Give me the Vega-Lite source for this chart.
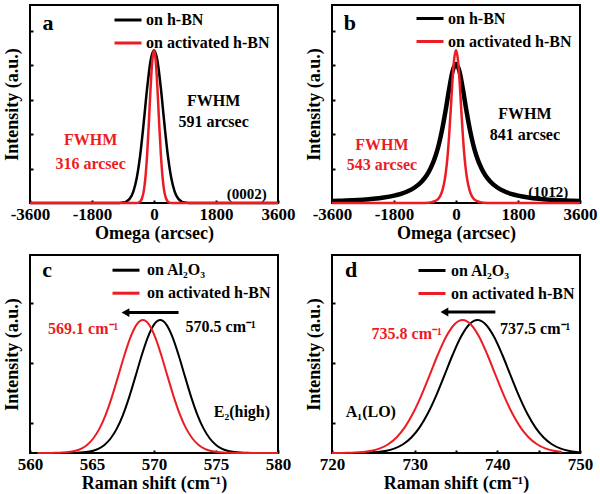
{
  "$schema": "https://vega.github.io/schema/vega-lite/v6.json",
  "padding": {"left": 2, "top": 2, "right": 2, "bottom": 2},
  "background": "white",
  "config": {
    "font": "Liberation Serif",
    "view": {"stroke": "black", "strokeWidth": 2},
    "axis": {"grid": false, "domain": false, "tickColor": "black", "tickSize": -3, "tickWidth": 2,
      "labelFont": "Liberation Serif", "labelFontWeight": "bold", "labelFontSize": 17, "labelColor": "black", "labelFlush": false, "labelPadding": 6,
      "titleFont": "Liberation Serif", "titleFontWeight": "bold", "titleFontSize": 18, "titleColor": "black"},
    "axisX": {"titlePadding": 2},
    "axisY": {"titlePadding": 8},
    "legend": {"orient": "none", "symbolType": "stroke", "symbolSize": 729, "symbolStrokeWidth": 3,
      "labelFont": "Liberation Serif", "labelFontWeight": "bold", "labelFontSize": 16, "labelColor": "black",
      "labelOffset": 3, "rowPadding": -6, "padding": 0, "labelLimit": 300},
    "text": {"font": "Liberation Serif", "fontWeight": "bold"}
  },
  "datasets": {
    "xrd0002": [
      {"omega": -3600, "intensity": 0, "sample": "on h-BN"},
      {"omega": -1100, "intensity": 0, "sample": "on h-BN"},
      {"omega": -1000, "intensity": 0.003, "sample": "on h-BN"},
      {"omega": -900, "intensity": 0.013, "sample": "on h-BN"},
      {"omega": -800, "intensity": 0.044, "sample": "on h-BN"},
      {"omega": -700, "intensity": 0.129, "sample": "on h-BN"},
      {"omega": -600, "intensity": 0.33, "sample": "on h-BN"},
      {"omega": -500, "intensity": 0.73, "sample": "on h-BN"},
      {"omega": -400, "intensity": 1.397, "sample": "on h-BN"},
      {"omega": -300, "intensity": 2.315, "sample": "on h-BN"},
      {"omega": -200, "intensity": 3.32, "sample": "on h-BN"},
      {"omega": -100, "intensity": 4.122, "sample": "on h-BN"},
      {"omega": 0, "intensity": 4.43, "sample": "on h-BN"},
      {"omega": 100, "intensity": 4.122, "sample": "on h-BN"},
      {"omega": 200, "intensity": 3.32, "sample": "on h-BN"},
      {"omega": 300, "intensity": 2.315, "sample": "on h-BN"},
      {"omega": 400, "intensity": 1.397, "sample": "on h-BN"},
      {"omega": 500, "intensity": 0.73, "sample": "on h-BN"},
      {"omega": 600, "intensity": 0.33, "sample": "on h-BN"},
      {"omega": 700, "intensity": 0.129, "sample": "on h-BN"},
      {"omega": 800, "intensity": 0.044, "sample": "on h-BN"},
      {"omega": 900, "intensity": 0.013, "sample": "on h-BN"},
      {"omega": 1000, "intensity": 0.003, "sample": "on h-BN"},
      {"omega": 1100, "intensity": 0, "sample": "on h-BN"},
      {"omega": 3600, "intensity": 0, "sample": "on h-BN"},
      {"omega": -3600, "intensity": 0, "sample": "on activated h-BN"},
      {"omega": -550, "intensity": 0, "sample": "on activated h-BN"},
      {"omega": -500, "intensity": 0.003, "sample": "on activated h-BN"},
      {"omega": -450, "intensity": 0.013, "sample": "on activated h-BN"},
      {"omega": -400, "intensity": 0.044, "sample": "on activated h-BN"},
      {"omega": -350, "intensity": 0.13, "sample": "on activated h-BN"},
      {"omega": -300, "intensity": 0.33, "sample": "on activated h-BN"},
      {"omega": -250, "intensity": 0.73, "sample": "on activated h-BN"},
      {"omega": -200, "intensity": 1.4, "sample": "on activated h-BN"},
      {"omega": -150, "intensity": 2.31, "sample": "on activated h-BN"},
      {"omega": -100, "intensity": 3.32, "sample": "on activated h-BN"},
      {"omega": -50, "intensity": 4.12, "sample": "on activated h-BN"},
      {"omega": 0, "intensity": 4.43, "sample": "on activated h-BN"},
      {"omega": 50, "intensity": 4.12, "sample": "on activated h-BN"},
      {"omega": 100, "intensity": 3.32, "sample": "on activated h-BN"},
      {"omega": 150, "intensity": 2.31, "sample": "on activated h-BN"},
      {"omega": 200, "intensity": 1.4, "sample": "on activated h-BN"},
      {"omega": 250, "intensity": 0.73, "sample": "on activated h-BN"},
      {"omega": 300, "intensity": 0.33, "sample": "on activated h-BN"},
      {"omega": 350, "intensity": 0.13, "sample": "on activated h-BN"},
      {"omega": 400, "intensity": 0.044, "sample": "on activated h-BN"},
      {"omega": 450, "intensity": 0.013, "sample": "on activated h-BN"},
      {"omega": 500, "intensity": 0.003, "sample": "on activated h-BN"},
      {"omega": 550, "intensity": 0, "sample": "on activated h-BN"},
      {"omega": 3600, "intensity": 0, "sample": "on activated h-BN"}
    ],
    "xrd1012": [
      {"omega": -3600, "intensity": 0.055, "sample": "on h-BN"},
      {"omega": -3300, "intensity": 0.066, "sample": "on h-BN"},
      {"omega": -3000, "intensity": 0.079, "sample": "on h-BN"},
      {"omega": -2700, "intensity": 0.097, "sample": "on h-BN"},
      {"omega": -2400, "intensity": 0.122, "sample": "on h-BN"},
      {"omega": -2100, "intensity": 0.159, "sample": "on h-BN"},
      {"omega": -1800, "intensity": 0.213, "sample": "on h-BN"},
      {"omega": -1600, "intensity": 0.266, "sample": "on h-BN"},
      {"omega": -1400, "intensity": 0.34, "sample": "on h-BN"},
      {"omega": -1200, "intensity": 0.449, "sample": "on h-BN"},
      {"omega": -1000, "intensity": 0.617, "sample": "on h-BN"},
      {"omega": -900, "intensity": 0.735, "sample": "on h-BN"},
      {"omega": -800, "intensity": 0.887, "sample": "on h-BN"},
      {"omega": -700, "intensity": 1.09, "sample": "on h-BN"},
      {"omega": -600, "intensity": 1.35, "sample": "on h-BN"},
      {"omega": -500, "intensity": 1.69, "sample": "on h-BN"},
      {"omega": -400, "intensity": 2.14, "sample": "on h-BN"},
      {"omega": -300, "intensity": 2.69, "sample": "on h-BN"},
      {"omega": -200, "intensity": 3.3, "sample": "on h-BN"},
      {"omega": -100, "intensity": 3.82, "sample": "on h-BN"},
      {"omega": 0, "intensity": 4.03, "sample": "on h-BN"},
      {"omega": 100, "intensity": 3.82, "sample": "on h-BN"},
      {"omega": 200, "intensity": 3.3, "sample": "on h-BN"},
      {"omega": 300, "intensity": 2.69, "sample": "on h-BN"},
      {"omega": 400, "intensity": 2.14, "sample": "on h-BN"},
      {"omega": 500, "intensity": 1.69, "sample": "on h-BN"},
      {"omega": 600, "intensity": 1.35, "sample": "on h-BN"},
      {"omega": 700, "intensity": 1.09, "sample": "on h-BN"},
      {"omega": 800, "intensity": 0.887, "sample": "on h-BN"},
      {"omega": 900, "intensity": 0.735, "sample": "on h-BN"},
      {"omega": 1000, "intensity": 0.617, "sample": "on h-BN"},
      {"omega": 1200, "intensity": 0.449, "sample": "on h-BN"},
      {"omega": 1400, "intensity": 0.34, "sample": "on h-BN"},
      {"omega": 1600, "intensity": 0.266, "sample": "on h-BN"},
      {"omega": 1800, "intensity": 0.213, "sample": "on h-BN"},
      {"omega": 2100, "intensity": 0.159, "sample": "on h-BN"},
      {"omega": 2400, "intensity": 0.122, "sample": "on h-BN"},
      {"omega": 2700, "intensity": 0.097, "sample": "on h-BN"},
      {"omega": 3000, "intensity": 0.079, "sample": "on h-BN"},
      {"omega": 3300, "intensity": 0.066, "sample": "on h-BN"},
      {"omega": 3600, "intensity": 0.055, "sample": "on h-BN"},
      {"omega": -3600, "intensity": 0, "sample": "on activated h-BN"},
      {"omega": -1000, "intensity": 0, "sample": "on activated h-BN"},
      {"omega": -800, "intensity": 0.01, "sample": "on activated h-BN"},
      {"omega": -700, "intensity": 0.025, "sample": "on activated h-BN"},
      {"omega": -600, "intensity": 0.06, "sample": "on activated h-BN"},
      {"omega": -500, "intensity": 0.14, "sample": "on activated h-BN"},
      {"omega": -450, "intensity": 0.22, "sample": "on activated h-BN"},
      {"omega": -400, "intensity": 0.35, "sample": "on activated h-BN"},
      {"omega": -350, "intensity": 0.55, "sample": "on activated h-BN"},
      {"omega": -300, "intensity": 0.85, "sample": "on activated h-BN"},
      {"omega": -250, "intensity": 1.3, "sample": "on activated h-BN"},
      {"omega": -200, "intensity": 1.95, "sample": "on activated h-BN"},
      {"omega": -150, "intensity": 2.75, "sample": "on activated h-BN"},
      {"omega": -100, "intensity": 3.6, "sample": "on activated h-BN"},
      {"omega": -50, "intensity": 4.2, "sample": "on activated h-BN"},
      {"omega": 0, "intensity": 4.43, "sample": "on activated h-BN"},
      {"omega": 50, "intensity": 4.2, "sample": "on activated h-BN"},
      {"omega": 100, "intensity": 3.6, "sample": "on activated h-BN"},
      {"omega": 150, "intensity": 2.75, "sample": "on activated h-BN"},
      {"omega": 200, "intensity": 1.95, "sample": "on activated h-BN"},
      {"omega": 250, "intensity": 1.3, "sample": "on activated h-BN"},
      {"omega": 300, "intensity": 0.85, "sample": "on activated h-BN"},
      {"omega": 350, "intensity": 0.55, "sample": "on activated h-BN"},
      {"omega": 400, "intensity": 0.35, "sample": "on activated h-BN"},
      {"omega": 450, "intensity": 0.22, "sample": "on activated h-BN"},
      {"omega": 500, "intensity": 0.14, "sample": "on activated h-BN"},
      {"omega": 600, "intensity": 0.06, "sample": "on activated h-BN"},
      {"omega": 700, "intensity": 0.025, "sample": "on activated h-BN"},
      {"omega": 800, "intensity": 0.01, "sample": "on activated h-BN"},
      {"omega": 1000, "intensity": 0, "sample": "on activated h-BN"},
      {"omega": 3600, "intensity": 0, "sample": "on activated h-BN"}
    ],
    "e2high": [
      {"shift": 562.5, "intensity": 0, "sample": "on Al₂O₃"},
      {"shift": 563, "intensity": 0.002, "sample": "on Al₂O₃"},
      {"shift": 563.5, "intensity": 0.005, "sample": "on Al₂O₃"},
      {"shift": 564, "intensity": 0.013, "sample": "on Al₂O₃"},
      {"shift": 564.5, "intensity": 0.03, "sample": "on Al₂O₃"},
      {"shift": 565, "intensity": 0.067, "sample": "on Al₂O₃"},
      {"shift": 565.5, "intensity": 0.139, "sample": "on Al₂O₃"},
      {"shift": 566, "intensity": 0.268, "sample": "on Al₂O₃"},
      {"shift": 566.5, "intensity": 0.483, "sample": "on Al₂O₃"},
      {"shift": 567, "intensity": 0.812, "sample": "on Al₂O₃"},
      {"shift": 567.5, "intensity": 1.274, "sample": "on Al₂O₃"},
      {"shift": 568, "intensity": 1.864, "sample": "on Al₂O₃"},
      {"shift": 568.5, "intensity": 2.546, "sample": "on Al₂O₃"},
      {"shift": 569, "intensity": 3.244, "sample": "on Al₂O₃"},
      {"shift": 569.5, "intensity": 3.857, "sample": "on Al₂O₃"},
      {"shift": 570, "intensity": 4.28, "sample": "on Al₂O₃"},
      {"shift": 570.5, "intensity": 4.43, "sample": "on Al₂O₃"},
      {"shift": 571, "intensity": 4.28, "sample": "on Al₂O₃"},
      {"shift": 571.5, "intensity": 3.857, "sample": "on Al₂O₃"},
      {"shift": 572, "intensity": 3.244, "sample": "on Al₂O₃"},
      {"shift": 572.5, "intensity": 2.546, "sample": "on Al₂O₃"},
      {"shift": 573, "intensity": 1.864, "sample": "on Al₂O₃"},
      {"shift": 573.5, "intensity": 1.274, "sample": "on Al₂O₃"},
      {"shift": 574, "intensity": 0.812, "sample": "on Al₂O₃"},
      {"shift": 574.5, "intensity": 0.483, "sample": "on Al₂O₃"},
      {"shift": 575, "intensity": 0.268, "sample": "on Al₂O₃"},
      {"shift": 575.5, "intensity": 0.139, "sample": "on Al₂O₃"},
      {"shift": 576, "intensity": 0.067, "sample": "on Al₂O₃"},
      {"shift": 576.5, "intensity": 0.03, "sample": "on Al₂O₃"},
      {"shift": 577, "intensity": 0.013, "sample": "on Al₂O₃"},
      {"shift": 577.5, "intensity": 0.005, "sample": "on Al₂O₃"},
      {"shift": 578, "intensity": 0.002, "sample": "on Al₂O₃"},
      {"shift": 578.5, "intensity": 0, "sample": "on Al₂O₃"},
      {"shift": 560.6, "intensity": 0, "sample": "on activated h-BN"},
      {"shift": 561.6, "intensity": 0.002, "sample": "on activated h-BN"},
      {"shift": 562.1, "intensity": 0.005, "sample": "on activated h-BN"},
      {"shift": 562.6, "intensity": 0.013, "sample": "on activated h-BN"},
      {"shift": 563.1, "intensity": 0.03, "sample": "on activated h-BN"},
      {"shift": 563.6, "intensity": 0.067, "sample": "on activated h-BN"},
      {"shift": 564.1, "intensity": 0.139, "sample": "on activated h-BN"},
      {"shift": 564.6, "intensity": 0.268, "sample": "on activated h-BN"},
      {"shift": 565.1, "intensity": 0.483, "sample": "on activated h-BN"},
      {"shift": 565.6, "intensity": 0.812, "sample": "on activated h-BN"},
      {"shift": 566.1, "intensity": 1.274, "sample": "on activated h-BN"},
      {"shift": 566.6, "intensity": 1.864, "sample": "on activated h-BN"},
      {"shift": 567.1, "intensity": 2.546, "sample": "on activated h-BN"},
      {"shift": 567.6, "intensity": 3.244, "sample": "on activated h-BN"},
      {"shift": 568.1, "intensity": 3.857, "sample": "on activated h-BN"},
      {"shift": 568.6, "intensity": 4.28, "sample": "on activated h-BN"},
      {"shift": 569.1, "intensity": 4.43, "sample": "on activated h-BN"},
      {"shift": 569.6, "intensity": 4.28, "sample": "on activated h-BN"},
      {"shift": 570.1, "intensity": 3.857, "sample": "on activated h-BN"},
      {"shift": 570.6, "intensity": 3.244, "sample": "on activated h-BN"},
      {"shift": 571.1, "intensity": 2.546, "sample": "on activated h-BN"},
      {"shift": 571.6, "intensity": 1.864, "sample": "on activated h-BN"},
      {"shift": 572.1, "intensity": 1.274, "sample": "on activated h-BN"},
      {"shift": 572.6, "intensity": 0.812, "sample": "on activated h-BN"},
      {"shift": 573.1, "intensity": 0.483, "sample": "on activated h-BN"},
      {"shift": 573.6, "intensity": 0.268, "sample": "on activated h-BN"},
      {"shift": 574.1, "intensity": 0.139, "sample": "on activated h-BN"},
      {"shift": 574.6, "intensity": 0.067, "sample": "on activated h-BN"},
      {"shift": 575.1, "intensity": 0.03, "sample": "on activated h-BN"},
      {"shift": 575.6, "intensity": 0.013, "sample": "on activated h-BN"},
      {"shift": 576.1, "intensity": 0.005, "sample": "on activated h-BN"},
      {"shift": 576.6, "intensity": 0.002, "sample": "on activated h-BN"},
      {"shift": 577.1, "intensity": 0, "sample": "on activated h-BN"},
      {"shift": 580, "intensity": 0, "sample": "on activated h-BN"}
    ],
    "a1lo": [
      {"shift": 722.6, "intensity": 0.002, "sample": "on Al₂O₃"},
      {"shift": 723.6, "intensity": 0.006, "sample": "on Al₂O₃"},
      {"shift": 724.6, "intensity": 0.015, "sample": "on Al₂O₃"},
      {"shift": 725.6, "intensity": 0.035, "sample": "on Al₂O₃"},
      {"shift": 726.6, "intensity": 0.076, "sample": "on Al₂O₃"},
      {"shift": 727.6, "intensity": 0.155, "sample": "on Al₂O₃"},
      {"shift": 728.6, "intensity": 0.292, "sample": "on Al₂O₃"},
      {"shift": 729.6, "intensity": 0.517, "sample": "on Al₂O₃"},
      {"shift": 730.6, "intensity": 0.855, "sample": "on Al₂O₃"},
      {"shift": 731.6, "intensity": 1.324, "sample": "on Al₂O₃"},
      {"shift": 732.6, "intensity": 1.915, "sample": "on Al₂O₃"},
      {"shift": 733.6, "intensity": 2.589, "sample": "on Al₂O₃"},
      {"shift": 734.6, "intensity": 3.275, "sample": "on Al₂O₃"},
      {"shift": 735.6, "intensity": 3.874, "sample": "on Al₂O₃"},
      {"shift": 736.6, "intensity": 4.284, "sample": "on Al₂O₃"},
      {"shift": 737.6, "intensity": 4.43, "sample": "on Al₂O₃"},
      {"shift": 738.6, "intensity": 4.284, "sample": "on Al₂O₃"},
      {"shift": 739.6, "intensity": 3.874, "sample": "on Al₂O₃"},
      {"shift": 740.6, "intensity": 3.275, "sample": "on Al₂O₃"},
      {"shift": 741.6, "intensity": 2.589, "sample": "on Al₂O₃"},
      {"shift": 742.6, "intensity": 1.915, "sample": "on Al₂O₃"},
      {"shift": 743.6, "intensity": 1.324, "sample": "on Al₂O₃"},
      {"shift": 744.6, "intensity": 0.855, "sample": "on Al₂O₃"},
      {"shift": 745.6, "intensity": 0.517, "sample": "on Al₂O₃"},
      {"shift": 746.6, "intensity": 0.292, "sample": "on Al₂O₃"},
      {"shift": 747.6, "intensity": 0.155, "sample": "on Al₂O₃"},
      {"shift": 748.6, "intensity": 0.076, "sample": "on Al₂O₃"},
      {"shift": 749.6, "intensity": 0.035, "sample": "on Al₂O₃"},
      {"shift": 750, "intensity": 0.025, "sample": "on Al₂O₃"},
      {"shift": 720, "intensity": 0.001, "sample": "on activated h-BN"},
      {"shift": 720.8, "intensity": 0.002, "sample": "on activated h-BN"},
      {"shift": 721.8, "intensity": 0.006, "sample": "on activated h-BN"},
      {"shift": 722.8, "intensity": 0.015, "sample": "on activated h-BN"},
      {"shift": 723.8, "intensity": 0.035, "sample": "on activated h-BN"},
      {"shift": 724.8, "intensity": 0.076, "sample": "on activated h-BN"},
      {"shift": 725.8, "intensity": 0.155, "sample": "on activated h-BN"},
      {"shift": 726.8, "intensity": 0.292, "sample": "on activated h-BN"},
      {"shift": 727.8, "intensity": 0.517, "sample": "on activated h-BN"},
      {"shift": 728.8, "intensity": 0.855, "sample": "on activated h-BN"},
      {"shift": 729.8, "intensity": 1.324, "sample": "on activated h-BN"},
      {"shift": 730.8, "intensity": 1.915, "sample": "on activated h-BN"},
      {"shift": 731.8, "intensity": 2.589, "sample": "on activated h-BN"},
      {"shift": 732.8, "intensity": 3.275, "sample": "on activated h-BN"},
      {"shift": 733.8, "intensity": 3.874, "sample": "on activated h-BN"},
      {"shift": 734.8, "intensity": 4.284, "sample": "on activated h-BN"},
      {"shift": 735.8, "intensity": 4.43, "sample": "on activated h-BN"},
      {"shift": 736.8, "intensity": 4.284, "sample": "on activated h-BN"},
      {"shift": 737.8, "intensity": 3.874, "sample": "on activated h-BN"},
      {"shift": 738.8, "intensity": 3.275, "sample": "on activated h-BN"},
      {"shift": 739.8, "intensity": 2.589, "sample": "on activated h-BN"},
      {"shift": 740.8, "intensity": 1.915, "sample": "on activated h-BN"},
      {"shift": 741.8, "intensity": 1.324, "sample": "on activated h-BN"},
      {"shift": 742.8, "intensity": 0.855, "sample": "on activated h-BN"},
      {"shift": 743.8, "intensity": 0.517, "sample": "on activated h-BN"},
      {"shift": 744.8, "intensity": 0.292, "sample": "on activated h-BN"},
      {"shift": 745.8, "intensity": 0.155, "sample": "on activated h-BN"},
      {"shift": 746.8, "intensity": 0.076, "sample": "on activated h-BN"},
      {"shift": 747.8, "intensity": 0.035, "sample": "on activated h-BN"}
    ]
  },
  "columns": 2,
  "spacing": {"row": 52, "column": 54},
  "bounds": "flush",
  "resolve": {"scale": {"color": "independent", "x": "independent", "y": "independent"}, "legend": {"color": "independent"}},
  "concat": [
    {
      "width": 248, "height": 198,
      "layer": [
        {
          "data": {"name": "xrd0002"},
          "mark": {"type": "line", "strokeWidth": 2.5, "interpolate": "monotone"},
          "encoding": {
            "x": {"field": "omega", "type": "quantitative", "scale": {"domain": [-3600, 3600], "nice": false},
              "axis": {"values": [-3600, -2700, -1800, -900, 0, 900, 1800, 2700, 3600], "labelExpr": "datum.value % 1800 === 0 ? '' + datum.value : ''", "title": "Omega (arcsec)"}},
            "y": {"field": "intensity", "type": "quantitative", "scale": {"domain": [0, 5.74], "nice": false},
              "axis": {"values": [1, 2, 3, 4, 5], "labels": false, "title": "Intensity (a.u.)"}},
            "color": {"field": "sample", "type": "nominal", "sort": null,
              "scale": {"domain": ["on h-BN", "on activated h-BN"], "range": ["black", "#ec1c24"]},
              "legend": {"title": null, "orient": "none", "legendX": 83, "legendY": 0}}
          }
        },
        {"data": {"values": [{}]}, "mark": {"type": "text", "text": "a", "fontSize": 22, "baseline": "alphabetic", "align": "center"},
          "encoding": {"x": {"datum": -3075}, "y": {"datum": 5.01}}},
        {"data": {"values": [{}]}, "mark": {"type": "text", "text": ["FWHM", "591 arcsec"], "fontSize": 16, "lineHeight": 21, "baseline": "middle", "align": "center", "color": "black"},
          "encoding": {"x": {"datum": 1730}, "y": {"datum": 2.96}}},
        {"data": {"values": [{}]}, "mark": {"type": "text", "text": ["FWHM", "316 arcsec"], "fontSize": 16, "lineHeight": 24, "baseline": "middle", "align": "center", "color": "#ec1c24"},
          "encoding": {"x": {"datum": -1840}, "y": {"datum": 1.83}}},
        {"data": {"values": [{}]}, "mark": {"type": "text", "text": "(0002)", "fontSize": 15, "baseline": "middle", "align": "center", "color": "black"},
          "encoding": {"x": {"datum": 2696}, "y": {"datum": 0.26}}}
      ]
    },
    {
      "width": 248, "height": 198,
      "layer": [
        {
          "data": {"name": "xrd1012"},
          "mark": {"type": "line", "interpolate": "monotone"},
          "encoding": {
            "x": {"field": "omega", "type": "quantitative", "scale": {"domain": [-3600, 3600], "nice": false},
              "axis": {"values": [-3600, -2700, -1800, -900, 0, 900, 1800, 2700, 3600], "labelExpr": "datum.value % 1800 === 0 ? '' + datum.value : ''", "title": "Omega (arcsec)"}},
            "y": {"field": "intensity", "type": "quantitative", "scale": {"domain": [0, 5.74], "nice": false},
              "axis": {"values": [1, 2, 3, 4, 5], "labels": false, "title": "Intensity (a.u.)"}},
            "color": {"field": "sample", "type": "nominal", "sort": null,
              "scale": {"domain": ["on h-BN", "on activated h-BN"], "range": ["black", "#ec1c24"]},
              "legend": {"title": null, "orient": "none", "legendX": 83, "legendY": -1.5}},
            "strokeWidth": {"field": "sample", "type": "nominal", "scale": {"domain": ["on h-BN", "on activated h-BN"], "range": [4.5, 2.5]}, "legend": null}
          }
        },
        {"data": {"values": [{}]}, "mark": {"type": "text", "text": "b", "fontSize": 22, "baseline": "alphabetic", "align": "center"},
          "encoding": {"x": {"datum": -3079}, "y": {"datum": 5.01}}},
        {"data": {"values": [{}]}, "mark": {"type": "text", "text": ["FWHM", "841 arcsec"], "fontSize": 16, "lineHeight": 21, "baseline": "middle", "align": "center", "color": "black"},
          "encoding": {"x": {"datum": 2000}, "y": {"datum": 2.58}}},
        {"data": {"values": [{}]}, "mark": {"type": "text", "text": ["FWHM", "543  arcsec"], "fontSize": 16, "lineHeight": 20, "baseline": "middle", "align": "center", "color": "#ec1c24"},
          "encoding": {"x": {"datum": -2150}, "y": {"datum": 1.68}}},
        {"data": {"values": [{}]}, "mark": {"type": "text", "text": "(101̄2)", "fontSize": 15, "baseline": "middle", "align": "center", "color": "black"},
          "encoding": {"x": {"datum": 2676}, "y": {"datum": 0.32}}}
      ]
    },
    {
      "width": 248, "height": 198,
      "layer": [
        {
          "data": {"name": "e2high"},
          "mark": {"type": "line", "strokeWidth": 2, "interpolate": "monotone"},
          "encoding": {
            "x": {"field": "shift", "type": "quantitative", "scale": {"domain": [560, 580], "nice": false},
              "axis": {"values": [560, 562.5, 565, 567.5, 570, 572.5, 575, 577.5, 580], "labelExpr": "datum.value % 5 === 0 ? '' + datum.value : ''", "title": "Raman shift (cm⁻¹)"}},
            "y": {"field": "intensity", "type": "quantitative", "scale": {"domain": [0, 6.6], "nice": false},
              "axis": {"values": [1, 2, 3, 4, 5, 6], "labels": false, "title": "Intensity (a.u.)"}},
            "color": {"field": "sample", "type": "nominal", "sort": null,
              "scale": {"domain": ["on Al₂O₃", "on activated h-BN"], "range": ["black", "#ec1c24"]},
              "legend": {"title": null, "orient": "none", "legendX": 81, "legendY": 0.2, "rowPadding": -3.7, "labelOffset": 6}}
          }
        },
        {"data": {"values": [{}]}, "mark": {"type": "text", "text": "c", "fontSize": 22, "baseline": "alphabetic", "align": "center"},
          "encoding": {"x": {"datum": 561.38}, "y": {"datum": 5.87}}},
        {"data": {"values": [{}]}, "mark": {"type": "rule", "strokeWidth": 3, "color": "black"},
          "encoding": {"x": {"datum": 567.9}, "x2": {"datum": 571.98}, "y": {"datum": 4.68}}},
        {"data": {"values": [{}]}, "mark": {"type": "point", "shape": "triangle-left", "filled": true, "color": "black", "opacity": 1, "size": 80},
          "encoding": {"x": {"datum": 567.7}, "y": {"datum": 4.68}}},
        {"data": {"values": [{}]}, "mark": {"type": "text", "text": "569.1 cm⁻¹", "fontSize": 16, "baseline": "middle", "align": "center", "color": "#ec1c24"},
          "encoding": {"x": {"datum": 564.29}, "y": {"datum": 4.14}}},
        {"data": {"values": [{}]}, "mark": {"type": "text", "text": "570.5 cm⁻¹", "fontSize": 16, "baseline": "middle", "align": "center", "color": "black"},
          "encoding": {"x": {"datum": 575.38}, "y": {"datum": 4.2}}},
        {"data": {"values": [{}]}, "mark": {"type": "text", "text": "E₂(high)", "fontSize": 16, "baseline": "middle", "align": "center", "color": "black"},
          "encoding": {"x": {"datum": 577.09}, "y": {"datum": 1.37}}}
      ]
    },
    {
      "width": 248, "height": 198,
      "layer": [
        {
          "data": {"name": "a1lo"},
          "mark": {"type": "line", "strokeWidth": 2, "interpolate": "monotone"},
          "encoding": {
            "x": {"field": "shift", "type": "quantitative", "scale": {"domain": [720, 750], "nice": false},
              "axis": {"values": [720, 725, 730, 735, 740, 745, 750], "labelExpr": "datum.value % 10 === 0 ? '' + datum.value : ''", "title": "Raman shift (cm⁻¹)"}},
            "y": {"field": "intensity", "type": "quantitative", "scale": {"domain": [0, 6.6], "nice": false},
              "axis": {"values": [1, 2, 3, 4, 5, 6], "labels": false, "title": "Intensity (a.u.)"}},
            "color": {"field": "sample", "type": "nominal", "sort": null,
              "scale": {"domain": ["on Al₂O₃", "on activated h-BN"], "range": ["black", "#ec1c24"]},
              "legend": {"title": null, "orient": "none", "legendX": 85, "legendY": 0.5, "rowPadding": -4, "labelOffset": 4}}
          }
        },
        {"data": {"values": [{}]}, "mark": {"type": "text", "text": "d", "fontSize": 22, "baseline": "alphabetic", "align": "center"},
          "encoding": {"x": {"datum": 722.3}, "y": {"datum": 5.87}}},
        {"data": {"values": [{}]}, "mark": {"type": "rule", "strokeWidth": 3, "color": "black"},
          "encoding": {"x": {"datum": 733.8}, "x2": {"datum": 739.76}, "y": {"datum": 4.7}}},
        {"data": {"values": [{}]}, "mark": {"type": "point", "shape": "triangle-left", "filled": true, "color": "black", "opacity": 1, "size": 80},
          "encoding": {"x": {"datum": 733.6}, "y": {"datum": 4.7}}},
        {"data": {"values": [{}]}, "mark": {"type": "text", "text": "735.8 cm⁻¹", "fontSize": 16, "baseline": "middle", "align": "center", "color": "#ec1c24"},
          "encoding": {"x": {"datum": 729.04}, "y": {"datum": 3.98}}},
        {"data": {"values": [{}]}, "mark": {"type": "text", "text": "737.5 cm⁻¹", "fontSize": 16, "baseline": "middle", "align": "center", "color": "black"},
          "encoding": {"x": {"datum": 744.58}, "y": {"datum": 4.14}}},
        {"data": {"values": [{}]}, "mark": {"type": "text", "text": "A₁(LO)", "fontSize": 16, "baseline": "middle", "align": "center", "color": "black"},
          "encoding": {"x": {"datum": 724.7}, "y": {"datum": 1.37}}}
      ]
    }
  ]
}
